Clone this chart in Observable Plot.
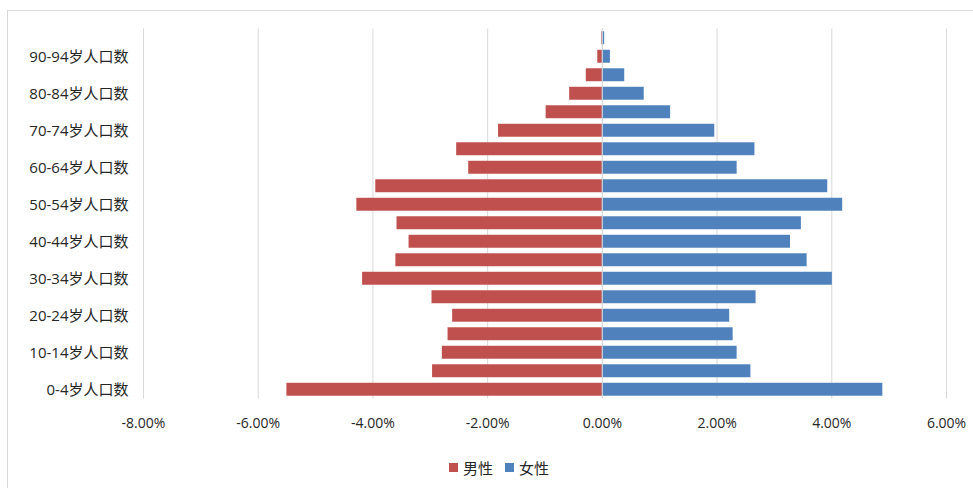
<!DOCTYPE html>
<html>
<head>
<meta charset="utf-8">
<script src="https://cdn.jsdelivr.net/npm/d3@7"></script>
<script src="https://cdn.jsdelivr.net/npm/@observablehq/plot@0.6"></script>
<style>
  html, body { margin: 0; padding: 0; background: #fff; overflow: hidden; }
  #frame {
    position: absolute; left: 7px; top: 10px;
    width: 982px; height: 500px;
    border: 1px solid #d9d9d9; background: #fff;
  }
  #chart svg { display: block; }
  #legend {
    position: absolute; left: 0; right: 0; top: 446px;
    display: flex; justify-content: center; align-items: center; gap: 12px;
    font-family: "Open Sans", "Noto Sans CJK SC", sans-serif; font-size: 15px; color: #262626;
  }
  .item { display: flex; align-items: center; gap: 5px; }
  .swatch { width: 9px; height: 9px; }
</style>
</head>
<body>
<div id="frame">
  <div id="chart"></div>
  <div id="legend"></div>
</div>
<script>
// Age groups, bottom to top
const ages = [
  "0-4岁人口数", "5-9岁人口数", "10-14岁人口数", "15-19岁人口数", "20-24岁人口数",
  "25-29岁人口数", "30-34岁人口数", "35-39岁人口数", "40-44岁人口数", "45-49岁人口数",
  "50-54岁人口数", "55-59岁人口数", "60-64岁人口数", "65-69岁人口数", "70-74岁人口数",
  "75-79岁人口数", "80-84岁人口数", "85-89岁人口数", "90-94岁人口数", "95-99岁人口数"
];
// Share of total population (%), males plotted to the left
const male = [-5.50, -2.96, -2.79, -2.69, -2.61, -2.97, -4.18, -3.60, -3.37, -3.58,
              -4.28, -3.95, -2.33, -2.54, -1.81, -0.98, -0.57, -0.28, -0.08, -0.01];
const female = [4.89, 2.59, 2.35, 2.28, 2.22, 2.68, 4.01, 3.57, 3.28, 3.47,
                4.19, 3.93, 2.35, 2.66, 1.96, 1.19, 0.73, 0.39, 0.14, 0.04];
const sexes = ["男性", "女性"];
const colors = ["#C0504D", "#4F81BD"];
const xTicks = [-8, -6, -4, -2, 0, 2, 4, 6];
// Only every other age group is labelled on the axis
const yLabels = ages.filter((d, i) => i % 2 === 0);

const rows = [
  ...ages.map((age, i) => ({age, sex: sexes[0], value: male[i]})),
  ...ages.map((age, i) => ({age, sex: sexes[1], value: female[i]}))
];

const chart = Plot.plot({
  width: 965,
  height: 445,
  marginLeft: 135,
  marginRight: 27,
  marginTop: 17.5,
  marginBottom: 57.5,
  style: {
    fontFamily: '"Open Sans", "Noto Sans CJK SC", sans-serif',
    fontSize: "14px",
    color: "#262626",
    background: "white"
  },
  x: {domain: [-8, 6]},
  y: {domain: ages.slice().reverse(), paddingInner: 0.3, paddingOuter: 0.15, round: false},
  color: {domain: sexes, range: colors},
  marks: [
    Plot.gridX(xTicks, {stroke: "#d9d9d9", strokeOpacity: 1}),
    Plot.barX(rows, {x1: 0, x2: "value", y: "age", fill: "sex"}),
    Plot.ruleX([0], {stroke: "#d9d9d9", strokeOpacity: 1}),
    Plot.axisX(xTicks, {tickSize: 0, tickPadding: 19, fontSize: 14, label: null,
                        tickFormat: d => d.toFixed(2) + "%"}),
    Plot.axisY(yLabels, {tickSize: 0, tickPadding: 15, fontSize: 15, label: null})
  ]
});
document.getElementById("chart").append(chart);

// Legend below the plot
const legend = document.getElementById("legend");
sexes.forEach((s, i) => {
  const item = document.createElement("div");
  item.className = "item";
  const sw = document.createElement("span");
  sw.className = "swatch";
  sw.style.background = colors[i];
  const label = document.createElement("span");
  label.textContent = s;
  item.append(sw, label);
  legend.append(item);
});
</script>
</body>
</html>
